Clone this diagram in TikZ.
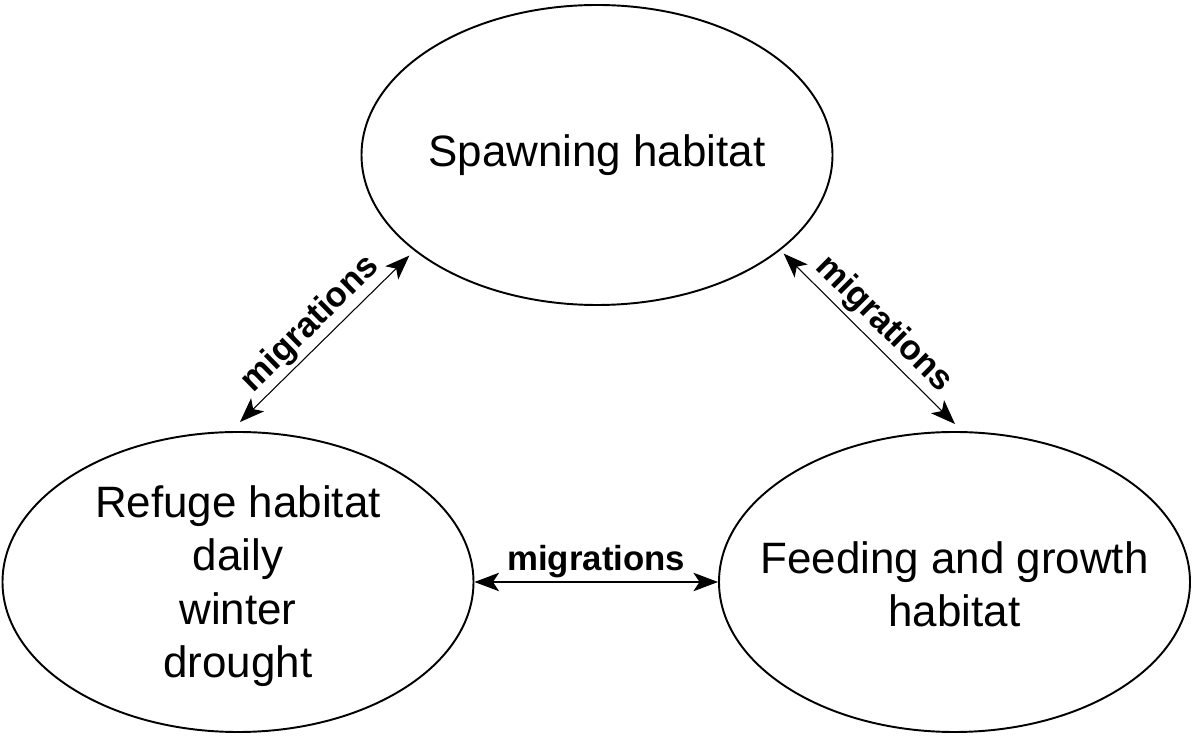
\documentclass[tikz,border=0pt]{standalone}
\usepackage{fontspec}
\setmainfont{Liberation Sans}
\usetikzlibrary{shapes.geometric,arrows.meta}

\begin{document}
\begin{tikzpicture}[
   habitat/.style={ellipse,draw,line width=1.1pt,minimum width=9.42cm,minimum height=6cm,inner sep=0pt},
   habtext/.style={align=center,font=\fontsize{25}{30.4}\selectfont},
   mig/.style={{Stealth[length=14pt,width=10.5pt,inset=3.5pt]}-{Stealth[length=14pt,width=10.5pt,inset=3.5pt]},line width=0.6pt},
   miglabel/.style={font=\fontsize{19.8}{24}\selectfont\bfseries,sloped,above,inner sep=2pt}
]
   \useasboundingbox (0,0) rectangle (23.84,14.72);

   \node[habitat] (spawn) at (11.94,11.62) {};
   \node[habitat] (refuge) at (4.76,3.08) {};
   \node[habitat] (feed) at (19.09,3.08) {};

   \node[habtext] (spawntxt) at (spawn) {Spawning habitat};
   \node[habtext] (refugetxt) at ([yshift=-0.08cm]refuge) {Refuge habitat\\daily\\winter\\drought};
   \node[habtext] (feedtxt) at ([yshift=-0.05cm]feed) {Feeding and growth\\habitat};

   %\draw[mig] (refuge) -- (spawn);
   \draw[mig] ([shift={(0.04,0.18)}]refuge.north) -- ([shift={(-0.12,-0.08)}]spawn.208)
      node[miglabel,midway] (migleft) {migrations};
   \draw[mig] ([shift={(0.10,-0.04)}]spawn.332) -- ([shift={(0.01,0.14)}]feed.north)
      node[miglabel,midway] (migright) {migrations};
   \draw[mig] (refuge.east) -- (feed.west)
      node[miglabel,midway] (migbottom) {migrations};
\end{tikzpicture}
\end{document}
